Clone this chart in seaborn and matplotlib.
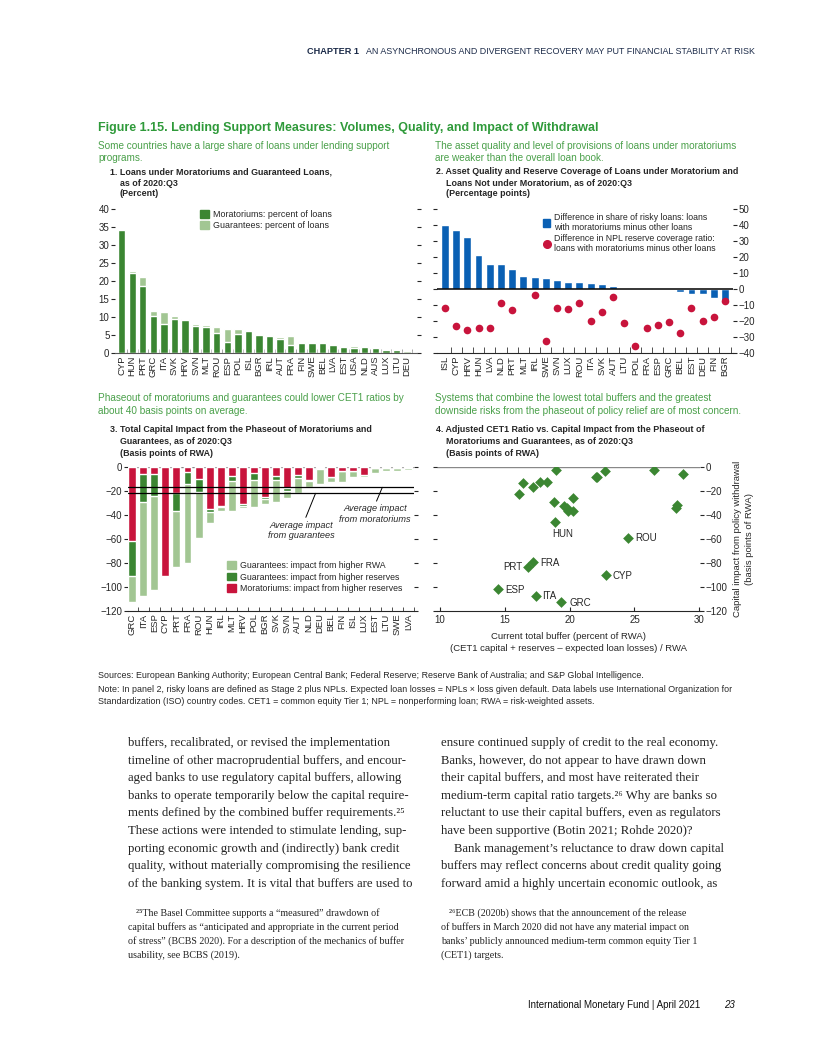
import matplotlib
matplotlib.use('Agg')
import matplotlib.pyplot as plt
from matplotlib.patches import Patch
from matplotlib.lines import Line2D
import numpy as np
import pandas as pd
import seaborn as sns

# ---- panel 1: loans under moratoriums and guarantees (percent)
p1_countries = ['CYP', 'HUN', 'PRT', 'GRC', 'ITA', 'SVK', 'HRV', 'SVN', 'MLT', 'ROU',
                'ESP', 'POL', 'ISL', 'BGR', 'IRL', 'AUT', 'FRA', 'FIN', 'SWE', 'BEL',
                'LVA', 'EST', 'USA', 'NLD', 'AUS', 'LUX', 'LTU', 'DEU']
p1_moratoria = [34.2, 22.3, 18.7, 10.4, 8.2, 9.6, 9.3, 7.6, 7.1, 5.7,
                3.2, 5.4, 6.2, 5.1, 4.8, 4.0, 2.3, 2.9, 2.9, 2.9,
                2.1, 1.8, 1.5, 1.8, 1.5, 0.9, 0.9, 0.1]
p1_guarantees = [0.0, 0.6, 2.5, 1.4, 3.3, 0.8, 0.3, 0.6, 0.8, 1.6,
                 3.6, 1.4, 0.3, 0.3, 0.3, 0.5, 2.3, 0.3, 0.3, 0.3,
                 0.2, 0.2, 0.5, 0.2, 0.0, 0.3, 0.3, 0.5]

# ---- panel 2: risky loan share and NPL coverage differences (percentage points)
p2_countries = ['ISL', 'CYP', 'HRV', 'HUN', 'LVA', 'NLD', 'PRT', 'MLT', 'IRL', 'SWE',
                'SVN', 'LUX', 'ROU', 'ITA', 'SVK', 'AUT', 'LTU', 'POL', 'FRA', 'ESP',
                'GRC', 'BEL', 'EST', 'DEU', 'FIN', 'BGR']
p2_risky = [40.3, 37.2, 32.8, 21.6, 15.9, 15.9, 12.8, 8.4, 7.8, 7.2,
            5.9, 4.7, 4.7, 4.0, 3.3, 2.1, 0.8, 0.8, 0.8, 0.0,
            0.0, -1.6, -3.3, -3.3, -5.8, -8.0]
p2_coverage = [-12.1, -23.1, -25.4, -24.4, -24.6, -8.5, -13.3, np.nan, -3.7, -32.7,
               -11.9, -12.7, -8.5, -20.2, -14.4, -5.0, -21.0, -35.4, -24.2, -22.3,
               -20.6, -27.7, -12.1, -20.0, -17.5, -7.5]

# ---- panel 3: capital impact of phaseout (basis points of RWA)
p3_countries = ['GRC', 'ITA', 'ESP', 'CYP', 'PRT', 'FRA', 'ROU', 'HUN', 'IRL', 'MLT',
                'HRV', 'POL', 'BGR', 'SVK', 'SVN', 'AUT', 'NLD', 'DEU', 'BEL', 'FIN',
                'ISL', 'LUX', 'EST', 'LTU', 'SWE', 'LVA']
p3_moratoria = [-61.9, -6.4, -6.4, -90.8, -22.2, -4.7, -10.3, -35.3, -32.8, -7.8,
                -31.4, -5.0, -25.0, -7.8, -18.1, -6.9, -11.1, -0.8, -8.3, -3.3,
                -3.3, -6.9, -1.4, -1.4, -1.4, -0.8]
p3_guar_reserves = [-28.9, -22.8, -18.0, 0.0, -14.5, -9.7, -10.5, -2.2, -0.5, -3.9,
                    -1.4, -6.1, -1.9, -3.3, -1.9, -2.3, -0.6, -0.9, -0.6, -0.3,
                    0.0, 0.0, 0.0, 0.0, 0.0, 0.0]
p3_guar_rwa = [-22.2, -78.8, -78.1, 0.0, -46.6, -65.6, -38.4, -9.2, -3.6, -25.2,
               -1.4, -22.2, -4.5, -18.1, -6.4, -13.0, -5.0, -12.7, -3.6, -8.9,
               -5.0, -1.4, -4.2, -1.9, -1.9, -1.7]
avg_moratoria = -17.2
avg_guarantees = -22.2

# ---- panel 4: total buffer vs capital impact
p4_buffer = [18.95, 16.43, 17.15, 17.71, 18.23, 16.12, 18.79, 19.59, 19.77, 19.90,
             20.23, 20.23, 18.87, 22.03, 22.13, 22.72, 26.50, 28.77, 28.25, 28.20,
             24.52, 17.20, 16.81, 22.80, 14.50, 17.40, 19.33]
p4_impact = [-2.8, -13.9, -16.7, -12.5, -12.5, -22.8, -29.2, -32.5, -34.7, -36.9,
             -36.9, -26.4, -46.4, -8.3, -8.9, -3.6, -2.8, -6.1, -31.9, -34.2,
             -59.2, -79.7, -83.3, -90.3, -101.9, -108.0, -113.0]
p4_labels = ['HUN', 'ROU', 'FRA', 'PRT', 'CYP', 'ESP', 'ITA', 'GRC']
p4_label_x = [19.43, 25.04, 17.71, 16.38, 23.30, 15.00, 17.90, 19.97]
p4_label_y = [-56.4, -59.2, -80.0, -83.3, -90.8, -102.8, -108.0, -113.3]
p4_label_ha = ['center', 'left', 'left', 'right', 'left', 'left', 'left', 'left']

DARK_GREEN = '#3b8632'
LIGHT_GREEN = '#a2c693'
BLUE = '#0a60b4'
RED = '#c8143c'
TITLE_GREEN = '#2f9a3a'
SUB_GREEN = '#4aa04a'
NAVY = '#1b2a48'

sns.set_style('ticks')
SANS = ['Liberation Sans', 'DejaVu Sans']
SERIF = ['Liberation Serif', 'DejaVu Serif']
plt.rcParams['font.family'] = SANS
plt.rcParams['font.size'] = 7
plt.rcParams['axes.linewidth'] = 0.8

W, H = 816, 1056
fig = plt.figure(figsize=(W / 100, H / 100), dpi=100)


def add_ax(left, top, right, bottom):
    return fig.add_axes([left / W, 1 - bottom / H, (right - left) / W, (bottom - top) / H])


def ftext(x, y, s, **kw):
    fig.text(x / W, 1 - y / H, s, va='center', **kw)


def clean(ax):
    for s in ['top', 'right', 'left']:
        ax.spines[s].set_visible(False)
    ax.set_xlabel('')
    ax.set_ylabel('')


# ---------------- panel 1
ax1 = add_ax(115, 209.3, 417, 353)
p1_total = np.array(p1_moratoria) + np.array(p1_guarantees)
sns.barplot(x=p1_countries, y=p1_total, order=p1_countries, color=LIGHT_GREEN,
            saturation=1, width=0.7, ax=ax1)
sns.barplot(x=p1_countries, y=p1_moratoria, order=p1_countries, color=DARK_GREEN,
            saturation=1, width=0.7, ax=ax1)
clean(ax1)
ax1.set_xlim(-0.63, 27.95)
ax1.set_ylim(0, 40)
ax1.set_yticks(range(0, 41, 5))
ax1.tick_params(axis='y', left=True, right=True, labelright=False, length=3, width=0.8, pad=1,
                labelsize=7)
ax1.tick_params(axis='x', length=0, labelrotation=90, labelsize=6.8, pad=2)
ax1.set_xticks(np.arange(len(p1_countries)) + 0.5, minor=True)
ax1.tick_params(axis='x', which='minor', direction='in', length=3, color='#999999')
ax1.spines['bottom'].set_color('#555555')
ax1.legend(handles=[Patch(color=DARK_GREEN, label='Moratoriums: percent of loans'),
                    Patch(color=LIGHT_GREEN, label='Guarantees: percent of loans')],
           loc='upper left', bbox_to_anchor=(0.27, 1.02), frameon=False, fontsize=6.4,
           handlelength=1.0, handleheight=1.0, handletextpad=0.4, labelspacing=0.25,
           borderaxespad=0)

# ---------------- panel 2
ax2 = add_ax(437, 209.3, 733, 353)
sns.barplot(x=p2_countries, y=p2_risky, order=p2_countries, color=BLUE,
            saturation=1, width=0.7, ax=ax2)
sns.stripplot(x=p2_countries, y=p2_coverage, order=p2_countries, color=RED,
              jitter=False, size=5.5, linewidth=0, ax=ax2)
clean(ax2)
ax2.axhline(0, color='black', lw=1.1, zorder=3)
ax2.set_xlim(-0.71, 25.71)
ax2.set_ylim(-40, 50)
ax2.set_yticks(range(-40, 51, 10))
ax2.yaxis.tick_right()
ax2.tick_params(axis='y', left=True, right=True, labelleft=False, labelright=True,
                length=3, width=0.8, pad=1, labelsize=7)
ax2.tick_params(axis='x', length=0, labelrotation=90, labelsize=6.8, pad=2)
ax2.set_xticks(np.arange(len(p2_countries)) + 0.5, minor=True)
ax2.tick_params(axis='x', which='minor', direction='in', length=4, color='#333333')
ax2.legend(handles=[Patch(color=BLUE, label='Difference in share of risky loans: loans\nwith moratoriums minus other loans'),
                    Line2D([], [], marker='o', ls='', color=RED, markersize=5.5,
                           label='Difference in NPL reserve coverage ratio:\nloans with moratoriums minus other loans')],
           loc='upper left', bbox_to_anchor=(0.345, 1.0), frameon=False, fontsize=6.3,
           handlelength=0.9, handleheight=0.9, handletextpad=0.4, labelspacing=0.2,
           borderaxespad=0)

# ---------------- panel 3
ax3 = add_ax(128, 466.7, 414, 610.7)
p3_lvl1 = np.array(p3_moratoria)
p3_lvl2 = p3_lvl1 + np.array(p3_guar_reserves)
p3_lvl3 = p3_lvl2 + np.array(p3_guar_rwa)
sns.barplot(x=p3_countries, y=p3_lvl3, order=p3_countries, color=LIGHT_GREEN,
            saturation=1, width=0.72, ax=ax3)
sns.barplot(x=p3_countries, y=p3_lvl2, order=p3_countries, color=DARK_GREEN,
            saturation=1, width=0.72, ax=ax3)
sns.barplot(x=p3_countries, y=p3_lvl1, order=p3_countries, color=RED,
            saturation=1, width=0.72, ax=ax3)
clean(ax3)
ax3.axhline(0, color='#888888', lw=1.0, zorder=0)
ax3.axhline(avg_moratoria, color='black', lw=0.9, zorder=4)
ax3.axhline(avg_guarantees, color='black', lw=0.9, zorder=4)
ax3.set_xlim(-0.39, 25.52)
ax3.set_ylim(-120, 0)
ax3.set_yticks(range(-120, 1, 20))
ax3.tick_params(axis='y', left=True, right=True, labelright=False, length=3, width=0.8,
                pad=1, labelsize=7)
ax3.tick_params(axis='x', length=0, labelrotation=90, labelsize=6.8, pad=2)
ax3.set_xticks(np.arange(len(p3_countries)) + 0.5, minor=True)
ax3.tick_params(axis='x', which='minor', direction='in', length=3, color='#333333')
ax3.annotate('Average impact\nfrom guarantees', xy=(16.6, avg_guarantees), xytext=(15.3, -53),
             ha='center', va='center', fontsize=6.6, style='italic',
             arrowprops=dict(arrowstyle='-', color='black', lw=0.7, shrinkA=0, shrinkB=0,
                             relpos=(0.55, 1.0)))
ax3.annotate('Average impact\nfrom moratoriums', xy=(22.65, avg_moratoria), xytext=(22.0, -39.5),
             ha='center', va='center', fontsize=6.6, style='italic',
             arrowprops=dict(arrowstyle='-', color='black', lw=0.7, shrinkA=0, shrinkB=0,
                             relpos=(0.5, 1.0)))
ax3.legend(handles=[Patch(color=LIGHT_GREEN, label='Guarantees: impact from higher RWA'),
                    Patch(color=DARK_GREEN, label='Guarantees: impact from higher reserves'),
                    Patch(color=RED, label='Moratoriums: impact from higher reserves')],
           loc='upper left', bbox_to_anchor=(0.335, 0.37), frameon=False, fontsize=6.3,
           handlelength=1.0, handleheight=1.0, handletextpad=0.4, labelspacing=0.3,
           borderaxespad=0)

# ---------------- panel 4
ax4 = add_ax(436.7, 466.7, 700, 610.7)
sns.scatterplot(x=p4_buffer, y=p4_impact, marker='D', color=DARK_GREEN, s=30,
                linewidth=0, ax=ax4, zorder=3)
clean(ax4)
ax4.axhline(0, color='#888888', lw=1.0, zorder=0)
ax4.set_xlim(9.75, 30.05)
ax4.set_ylim(-120, 0)
ax4.set_xticks(range(10, 31, 5))
ax4.set_yticks(range(-120, 1, 20))
ax4.yaxis.tick_right()
ax4.tick_params(axis='y', left=True, right=True, labelleft=False, labelright=True,
                length=3, width=0.8, pad=1, labelsize=7)
ax4.tick_params(axis='x', direction='in', length=3, labelsize=7, pad=3)
for lab, lx, ly, ha in zip(p4_labels, p4_label_x, p4_label_y, p4_label_ha):
    ax4.text(lx, ly, lab, ha=ha, va='center', fontsize=7)
ax4.set_xlabel('Current total buffer (percent of RWA)\n(CET1 capital + reserves \u2013 expected loan losses) / RWA',
               fontsize=6.8, labelpad=5, linespacing=1.5)
ax4.yaxis.set_label_position('right')
ax4.set_ylabel('Capital impact from policy withdrawal\n(basis points of RWA)', fontsize=6.8,
               labelpad=4, linespacing=1.5)

# ---------------- page text
ftext(359, 52, 'CHAPTER 1', fontsize=6.6, fontweight='bold', color=NAVY, ha='right')
ftext(755, 52, 'AN ASYNCHRONOUS AND DIVERGENT RECOVERY MAY PUT FINANCIAL STABILITY AT RISK',
      fontsize=6.4, color=NAVY, ha='right')
ftext(98, 128, 'Figure 1.15. Lending Support Measures: Volumes, Quality, and Impact of Withdrawal',
      fontsize=9.0, fontweight='bold', color=TITLE_GREEN)

SUB = 7.2
ftext(98, 146, 'Some countries have a large share of loans under lending support', fontsize=SUB, color=SUB_GREEN)
ftext(98, 158, 'programs.', fontsize=SUB, color=SUB_GREEN)
ftext(435, 146, 'The asset quality and level of provisions of loans under moratoriums', fontsize=SUB, color=SUB_GREEN)
ftext(435, 158, 'are weaker than the overall loan book.', fontsize=SUB, color=SUB_GREEN)

PT = 6.4
ftext(110, 172, '1. Loans under Moratoriums and Guaranteed Loans,', fontsize=PT, fontweight='bold')
ftext(120, 183, 'as of 2020:Q3', fontsize=PT, fontweight='bold')
ftext(120, 194, '(Percent)', fontsize=PT, fontweight='bold')
ftext(436, 172, '2. Asset Quality and Reserve Coverage of Loans under Moratorium and', fontsize=PT, fontweight='bold')
ftext(446, 183, 'Loans Not under Moratorium, as of 2020:Q3', fontsize=PT, fontweight='bold')
ftext(446, 194, '(Percentage points)', fontsize=PT, fontweight='bold')

ftext(98, 398, 'Phaseout of moratoriums and guarantees could lower CET1 ratios by', fontsize=SUB, color=SUB_GREEN)
ftext(98, 411, 'about 40 basis points on average.', fontsize=SUB, color=SUB_GREEN)
ftext(435, 398, 'Systems that combine the lowest total buffers and the greatest', fontsize=SUB, color=SUB_GREEN)
ftext(435, 411, 'downside risks from the phaseout of policy relief are of most concern.', fontsize=SUB, color=SUB_GREEN)

ftext(110, 430, '3. Total Capital Impact from the Phaseout of Moratoriums and', fontsize=PT, fontweight='bold')
ftext(120, 441, 'Guarantees, as of 2020:Q3', fontsize=PT, fontweight='bold')
ftext(120, 453, '(Basis points of RWA)', fontsize=PT, fontweight='bold')
ftext(436, 430, '4. Adjusted CET1 Ratio vs. Capital Impact from the Phaseout of', fontsize=PT, fontweight='bold')
ftext(446, 441, 'Moratoriums and Guarantees, as of 2020:Q3', fontsize=PT, fontweight='bold')
ftext(446, 453, '(Basis points of RWA)', fontsize=PT, fontweight='bold')

ftext(98, 676, 'Sources: European Banking Authority; European Central Bank; Federal Reserve; Reserve Bank of Australia; and S&P Global Intelligence.', fontsize=6.4)
ftext(98, 689, 'Note: In panel 2, risky loans are defined as Stage 2 plus NPLs. Expected loan losses = NPLs \u00d7 loss given default. Data labels use International Organization for', fontsize=6.4)
ftext(98, 702, 'Standardization (ISO) country codes. CET1 = common equity Tier 1; NPL = nonperforming loan; RWA = risk-weighted assets.', fontsize=6.4)

left_body = ['buffers, recalibrated, or revised the implementation',
             'timeline of other macroprudential buffers, and encour-',
             'aged banks to use regulatory capital buffers, allowing',
             'banks to operate temporarily below the capital require-',
             'ments defined by the combined buffer requirements.\u00b2\u2075',
             'These actions were intended to stimulate lending, sup-',
             'porting economic growth and (indirectly) bank credit',
             'quality, without materially compromising the resilience',
             'of the banking system. It is vital that buffers are used to']
right_body = ['ensure continued supply of credit to the real economy.',
              'Banks, however, do not appear to have drawn down',
              'their capital buffers, and most have reiterated their',
              'medium-term capital ratio targets.\u00b2\u2076 Why are banks so',
              'reluctant to use their capital buffers, even as regulators',
              'have been supportive (Botin 2021; Rohde 2020)?',
              '    Bank management\u2019s reluctance to draw down capital',
              'buffers may reflect concerns about credit quality going',
              'forward amid a highly uncertain economic outlook, as']
for i, line in enumerate(left_body):
    ftext(128, 743 + i * 17.6, line, fontsize=9.2, family=SERIF, color='#222222')
for i, line in enumerate(right_body):
    ftext(441, 743 + i * 17.6, line, fontsize=9.2, family=SERIF, color='#222222')

left_note = ['\u00b2\u2075The Basel Committee supports a \u201cmeasured\u201d drawdown of',
             'capital buffers as \u201canticipated and appropriate in the current period',
             'of stress\u201d (BCBS 2020). For a description of the mechanics of buffer',
             'usability, see BCBS (2019).']
right_note = ['\u00b2\u2076ECB (2020b) shows that the announcement of the release',
              'of buffers in March 2020 did not have any material impact on',
              'banks\u2019 publicly announced medium-term common equity Tier 1',
              '(CET1) targets.']
FN = 7.2
ftext(136, 913, left_note[0], fontsize=FN, family=SERIF, color='#222222')
for i, line in enumerate(left_note[1:]):
    ftext(128, 927 + i * 14, line, fontsize=FN, family=SERIF, color='#222222')
ftext(449, 913, right_note[0], fontsize=FN, family=SERIF, color='#222222')
for i, line in enumerate(right_note[1:]):
    ftext(441, 927 + i * 14, line, fontsize=FN, family=SERIF, color='#222222')

ftext(700, 1005, 'International Monetary Fund | April 2021', fontsize=7, ha='right', color='#111111')
ftext(724, 1005, '23', fontsize=7, style='italic', color='#111111')

fig.savefig('out.png', dpi=100)
